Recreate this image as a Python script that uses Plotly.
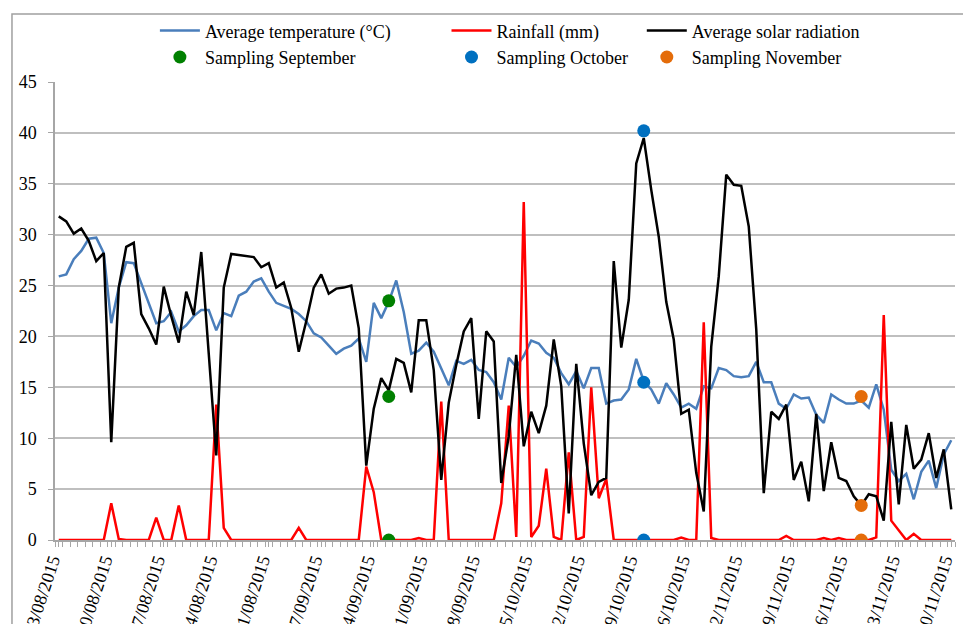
import plotly.graph_objects as go
import pandas as pd

start_date = "2015-08-03"
n_days = 120
dates = pd.date_range(start_date, periods=n_days, freq="D")

temperature = [25.9, 26.1, 27.6, 28.4, 29.6, 29.7, 28.2, 21.3, 24.8, 27.3,
               27.2, 25.2, 23.4, 21.3, 21.5, 22.4, 20.5, 21.1, 22.0, 22.6,
               22.6, 20.6, 22.3, 22.0, 24.0, 24.4, 25.4, 25.7, 24.4, 23.3,
               23.0, 22.7, 22.2, 21.5, 20.3, 19.9, 19.1, 18.3, 18.8, 19.1,
               19.8, 17.5, 23.3, 21.8, 23.4, 25.5, 22.4, 18.3, 18.6, 19.4,
               18.5, 16.8, 15.2, 17.6, 17.3, 17.7, 16.7, 16.5, 15.5, 13.8,
               17.9, 17.0, 18.1, 19.6, 19.3, 18.4, 17.9, 16.4, 15.3, 16.6,
               14.9, 16.9, 16.9, 13.4, 13.7, 13.8, 14.8, 17.8, 15.6, 14.8,
               13.4, 15.4, 14.3, 13.0, 13.4, 12.9, 15.1, 14.9, 16.9, 16.7,
               16.1, 16.0, 16.1, 17.5, 15.5, 15.5, 13.4, 12.9, 14.3, 13.9,
               14.0, 12.3, 11.5, 14.3, 13.8, 13.4, 13.4, 13.7, 13.0, 15.3,
               12.8, 6.9, 5.8, 6.5, 4.0, 6.7, 7.8, 5.1, 8.4, 9.8]

rainfall = [0, 0, 0, 0, 0, 0, 0, 3.6, 0.1, 0,
            0, 0, 0, 2.2, 0, 0, 3.4, 0, 0, 0,
            0, 13.3, 1.2, 0, 0, 0, 0, 0, 0, 0,
            0, 0, 1.2, 0, 0, 0, 0, 0, 0, 0,
            0, 7.2, 4.7, 0, 0, 0, 0, 0, 0.2, 0,
            0, 13.6, 0, 0, 0, 0, 0, 0, 0, 3.6,
            13.2, 0.3, 33.2, 0.3, 1.4, 7.0, 0.3, 0, 8.6, 0,
            0.3, 15.0, 4.1, 6.0, 0, 0, 0, 0, 0, 0,
            0, 0, 0, 0.25, 0, 0, 21.4, 0.2, 0, 0,
            0, 0, 0, 0, 0, 0, 0, 0.4, 0, 0,
            0, 0, 0.2, 0, 0.2, 0, 0, 0, 0, 0.25,
            22.1, 1.9, 1.0, 0, 0.6, 0, 0, 0, 0, 0]

solar = [31.8, 31.3, 30.1, 30.6, 29.4, 27.4, 28.2, 9.6, 24.8, 28.8,
         29.2, 22.2, 20.8, 19.2, 24.9, 22.0, 19.4, 24.4, 22.1, 28.3,
         18.3, 8.3, 24.8, 28.1, 28.0, 27.9, 27.8, 26.8, 27.2, 24.8,
         25.3, 22.8, 18.5, 21.5, 24.8, 26.1, 24.2, 24.7, 24.8, 25.0,
         20.8, 7.3, 12.9, 15.9, 14.7, 17.8, 17.4, 14.5, 21.6, 21.6,
         16.7, 5.9, 13.5, 17.2, 20.5, 21.8, 11.9, 20.5, 19.5, 5.6,
         10.2, 18.2, 9.2, 12.6, 10.5, 13.2, 19.7, 15.1, 2.6, 17.3,
         9.5, 4.4, 5.7, 6.1, 27.4, 18.9, 23.6, 37.0, 39.5, 34.4,
         29.8, 23.4, 19.7, 12.4, 12.8, 6.6, 2.8, 19.0, 25.9, 35.9,
         34.9, 34.8, 30.8, 20.7, 4.6, 12.6, 11.9, 13.3, 5.9, 7.7,
         3.8, 12.4, 4.8, 9.6, 6.1, 5.8, 4.3, 3.4, 4.5, 4.3,
         1.9, 11.6, 3.5, 11.3, 7.0, 7.9, 10.5, 6.1, 8.9, 3.0]

sampling_sept_date = "2015-09-16"
sampling_sept_values = [23.5, 14.1, 0]
sampling_oct_date = "2015-10-20"
sampling_oct_values = [40.2, 15.5, 0]
sampling_nov_date = "2015-11-18"
sampling_nov_values = [14.1, 3.4, 0]

FONT = "Liberation Serif"
FS = 18
GRID = "#bfbfbf"
AXIS = "#a6a6a6"

fig = go.Figure()
fig.add_trace(go.Scatter(x=dates, y=temperature, mode="lines",
                         name="Average temperature (°C)",
                         line=dict(color="#4a7ebb", width=2.5), legend="legend"))
fig.add_trace(go.Scatter(x=dates, y=rainfall, mode="lines", name="Rainfall (mm)",
                         line=dict(color="#ff0000", width=2.5), legend="legend2"))
fig.add_trace(go.Scatter(x=dates, y=solar, mode="lines", name="Average solar radiation",
                         line=dict(color="#000000", width=2.5), legend="legend3"))
fig.add_trace(go.Scatter(x=[sampling_sept_date] * 3, y=sampling_sept_values, mode="markers",
                         name="Sampling September",
                         marker=dict(color="#008000", size=13), legend="legend"))
fig.add_trace(go.Scatter(x=[sampling_oct_date] * 3, y=sampling_oct_values, mode="markers",
                         name="Sampling October",
                         marker=dict(color="#0070c0", size=13), legend="legend2"))
fig.add_trace(go.Scatter(x=[sampling_nov_date] * 3, y=sampling_nov_values, mode="markers",
                         name="Sampling November",
                         marker=dict(color="#e46c0a", size=13), legend="legend3"))

leg_common = dict(orientation="v", xanchor="left", yanchor="top", y=1.152,
                  bgcolor="rgba(0,0,0,0)", font=dict(family=FONT, size=FS, color="#000"),
                  tracegroupgap=0, itemwidth=40)
fig.update_layout(
    legend=dict(x=0.111, **leg_common),
    legend2=dict(x=0.435, **leg_common),
    legend3=dict(x=0.652, **leg_common),
)

fig.update_layout(
    width=963, height=624,
    margin=dict(l=55, r=8, t=82, b=84),
    paper_bgcolor="white", plot_bgcolor="white",
    font=dict(family=FONT, size=FS, color="#000"),
    showlegend=True,
    xaxis=dict(
        type="date", automargin=False,
        range=["2015-08-02 12:00", "2015-11-30 12:00"],
        tick0="2015-08-03", dtick=7 * 86400000,
        tickformat="%d/%m/%Y", tickangle=-72,
        ticklabelstandoff=-4, ticklabelshift=-7,
        showgrid=False, showline=True, linecolor=AXIS, linewidth=1.5,
        ticks="outside", ticklen=5, tickcolor=AXIS, tickwidth=1,
        minor=dict(dtick=86400000, tick0="2015-08-02 12:00", ticks="outside",
                   ticklen=5, tickcolor=AXIS, tickwidth=1, showgrid=False),
        tickfont=dict(family=FONT, size=FS, color="#000"),
        zeroline=False,
    ),
    yaxis=dict(
        range=[0, 45], dtick=5, tick0=0, automargin=False,
        showgrid=True, gridcolor=GRID, gridwidth=1.5,
        showline=True, linecolor=AXIS, linewidth=1.5,
        ticks="outside", ticklen=5, tickcolor=AXIS,
        tickfont=dict(family=FONT, size=FS, color="#000"),
        ticklabelstandoff=8,
        zeroline=False,
    ),
)

fig.add_shape(type="rect", xref="paper", yref="paper",
              x0=-0.0478, x1=1.03, y0=-0.3, y1=1.1485,
              line=dict(color="#a0a0a0", width=1.5), fillcolor="rgba(0,0,0,0)",
              layer="below")

fig.write_html("out.html")
